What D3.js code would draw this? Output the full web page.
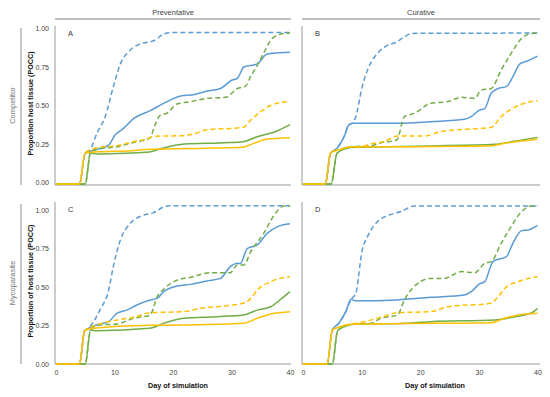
<!DOCTYPE html>
<html>
<head>
<meta charset="utf-8">
<script src="https://cdn.jsdelivr.net/npm/d3@7"></script>
<style>
  body { margin: 0; background: #fff; }
  svg { display: block; }
  text { font-family: "Liberation Sans", Arial, sans-serif; }
</style>
</head>
<body>
<svg id="chart" width="550" height="397"></svg>
<script>
// ---- Data (day, proportion) ----
const columns = ["Preventative", "Curative"];
const rows = ["Competitor", "Mycoparasite"];
const panelLetters = ["A", "B", "C", "D"];
const yTicks = [0, 0.25, 0.5, 0.75, 1];
const xTicks = [0, 10, 20, 30, 40];

// Panel A
const A_blue_dash = [[0,0],[4,0],[5,0.2],[5.8,0.22],[7,0.33],[8.4,0.437],[9.8,0.632],[11,0.78],[12.7,0.87],[14.7,0.913],[16.7,0.93],[18.4,0.974],[19.5,0.983],[40,0.983]];
const A_blue_solid = [[0,0],[4,0],[5,0.2],[7,0.225],[9,0.253],[10.1,0.318],[11.5,0.36],[13.3,0.426],[16.1,0.476],[18.4,0.524],[21.3,0.571],[23.5,0.58],[25.8,0.604],[28.1,0.62],[30.1,0.675],[31,0.686],[32.1,0.76],[34.4,0.78],[36.1,0.844],[38.4,0.853],[40,0.855]];
const A_green_dash = [[0,0],[5,0],[5.9,0.21],[7,0.225],[10.4,0.242],[13.3,0.27],[16.1,0.3],[16.8,0.37],[17.8,0.445],[19,0.46],[20.7,0.52],[23,0.535],[25.8,0.556],[29,0.563],[31,0.62],[32.4,0.636],[33.3,0.7],[34.4,0.77],[35.5,0.85],[37,0.946],[39,0.978],[40,0.98]];
const A_green_solid = [[0,0],[5,0],[5.9,0.2],[7,0.195],[12,0.2],[16,0.208],[18,0.23],[22,0.26],[28.7,0.268],[32,0.275],[34.4,0.307],[37.8,0.344],[40,0.385]];
const A_yellow_dash = [[0,0],[4,0],[5,0.205],[7.5,0.238],[10.4,0.249],[13.3,0.275],[15.5,0.292],[16.7,0.31],[21.8,0.314],[24,0.33],[25.5,0.35],[32,0.368],[33.3,0.416],[34.4,0.452],[36.7,0.51],[40,0.537]];
const A_yellow_solid = [[0,0],[4,0],[5,0.203],[8,0.21],[12,0.215],[16,0.225],[22,0.23],[27,0.233],[31.8,0.238],[33.8,0.264],[36,0.29],[40,0.3]];

// Panel B
const B_blue_dash = [[0,0],[3.8,0],[4.7,0.2],[5.8,0.232],[7,0.307],[7.8,0.383],[8.4,0.394],[9,0.437],[10.1,0.632],[11,0.74],[12.7,0.848],[14.4,0.9],[16.1,0.924],[17.3,0.957],[18.7,0.978],[40,0.98]];
const B_blue_solid = [[0,0],[3.8,0],[4.7,0.2],[5.8,0.232],[7,0.307],[7.8,0.383],[8.4,0.394],[16.1,0.394],[21.8,0.405],[27.5,0.42],[28.7,0.437],[30.1,0.48],[31,0.49],[32.1,0.589],[33.3,0.62],[34.7,0.632],[35.8,0.697],[37,0.78],[38.4,0.8],[40,0.83]];
const B_green_dash = [[0,0],[4.8,0],[5.8,0.2],[8.1,0.242],[11.5,0.247],[13.3,0.268],[16,0.286],[17.3,0.437],[19,0.459],[21.8,0.524],[24.7,0.535],[27,0.563],[29.3,0.556],[30.4,0.61],[32.1,0.62],[33.8,0.74],[35.5,0.848],[37.3,0.946],[39,0.978],[40,0.98]];
const B_green_solid = [[0,0],[4.8,0],[5.8,0.2],[7.5,0.232],[9,0.238],[21.8,0.247],[32.7,0.258],[36,0.277],[40,0.303]];
const B_yellow_dash = [[0,0],[3.8,0],[4.7,0.203],[6.4,0.225],[8.1,0.242],[9.8,0.242],[11.5,0.26],[13.8,0.275],[16.1,0.312],[20.7,0.312],[23.5,0.34],[27.5,0.355],[32.1,0.368],[33.8,0.437],[36.1,0.498],[39,0.535],[40,0.539]];
const B_yellow_solid = [[0,0],[3.8,0],[4.7,0.203],[6.4,0.225],[8.1,0.242],[16,0.242],[32,0.247],[34.4,0.264],[40,0.29]];

// Panel C
const C_blue_dash = [[0,0],[4,0],[4.9,0.216],[5.8,0.242],[7.5,0.35],[9,0.48],[9.8,0.632],[11,0.805],[12.7,0.913],[15,0.967],[16.7,0.983],[18.4,1.02],[19.5,1.028],[40,1.028]];
const C_blue_solid = [[0,0],[4,0],[4.9,0.216],[7.5,0.26],[9,0.275],[10.4,0.329],[12.1,0.35],[13.8,0.383],[16.1,0.416],[17.3,0.426],[18.4,0.47],[20.7,0.506],[23,0.517],[25.8,0.539],[28.1,0.556],[29.8,0.632],[31,0.654],[31.5,0.652],[32.7,0.75],[34.4,0.773],[36.1,0.848],[37.8,0.89],[40,0.91]];
const C_green_dash = [[0,0],[5,0],[5.9,0.22],[7.5,0.253],[10.4,0.26],[13.3,0.297],[16.1,0.318],[17.3,0.437],[18.4,0.485],[20.7,0.545],[23,0.563],[26.4,0.593],[29.8,0.593],[31,0.643],[32.1,0.643],[33.3,0.73],[35.5,0.848],[37.3,0.967],[39,1.026],[40,1.026]];
const C_green_solid = [[0,0],[5,0],[5.9,0.22],[7,0.216],[16,0.232],[18.4,0.264],[21.8,0.297],[27.5,0.307],[32,0.318],[34.4,0.35],[36.7,0.372],[38.4,0.42],[40,0.47]];
const C_yellow_dash = [[0,0],[4,0],[4.9,0.216],[7.5,0.26],[10.4,0.286],[13.3,0.303],[16.1,0.333],[21.8,0.34],[24.7,0.361],[32,0.394],[33.3,0.426],[34.4,0.48],[36.7,0.535],[40,0.567]];
const C_yellow_solid = [[0,0],[4,0],[4.9,0.216],[6.4,0.232],[16,0.251],[21.8,0.253],[32,0.264],[34.4,0.297],[36.7,0.325],[40,0.34]];

// Panel D
const D_blue_dash = [[0,0],[4.1,0],[5,0.22],[6.1,0.264],[7.3,0.34],[8.2,0.42],[9,0.459],[10.1,0.74],[11,0.827],[12.7,0.924],[14.7,0.967],[16.7,0.99],[19,1.026],[40,1.026]];
const D_blue_solid = [[0,0],[4.1,0],[5,0.22],[6.1,0.264],[7.3,0.34],[8.2,0.42],[9,0.41],[16.1,0.416],[21.8,0.433],[27.5,0.448],[28.7,0.47],[30.1,0.52],[31,0.535],[32.4,0.665],[33.3,0.68],[34.7,0.697],[35.8,0.784],[37.3,0.866],[38.4,0.87],[40,0.9]];
const D_green_dash = [[0,0],[5,0],[5.9,0.216],[7,0.242],[9,0.26],[11.5,0.264],[13.3,0.297],[16.1,0.318],[17.3,0.416],[18.4,0.48],[21.8,0.556],[24.1,0.556],[27,0.6],[29.3,0.593],[31,0.654],[32.1,0.665],[33.8,0.784],[35.5,0.892],[37.3,0.99],[39,1.026],[40,1.026]];
const D_green_solid = [[0,0],[5,0],[5.9,0.216],[7,0.242],[9,0.26],[16.1,0.262],[21.8,0.275],[32.7,0.286],[36.1,0.307],[39,0.333],[40,0.36]];
const D_yellow_dash = [[0,0],[4.1,0],[5,0.22],[6.4,0.242],[8.1,0.258],[10.4,0.275],[13.3,0.303],[16.1,0.333],[21.8,0.34],[24.7,0.372],[32,0.394],[33.3,0.437],[34.4,0.49],[36.7,0.535],[40,0.567]];
const D_yellow_solid = [[0,0],[4.1,0],[5,0.22],[6.4,0.242],[8.1,0.258],[21.8,0.264],[32,0.268],[34.4,0.297],[37.5,0.323],[40,0.329]];

const panelSeries = [
  [A_blue_dash, A_blue_solid, A_green_dash, A_green_solid, A_yellow_dash, A_yellow_solid],
  [B_blue_dash, B_blue_solid, B_green_dash, B_green_solid, B_yellow_dash, B_yellow_solid],
  [C_blue_dash, C_blue_solid, C_green_dash, C_green_solid, C_yellow_dash, C_yellow_solid],
  [D_blue_dash, D_blue_solid, D_green_dash, D_green_solid, D_yellow_dash, D_yellow_solid]
];

// ---- Styles / layout ----
const seriesStyle = [
  {color: "#5b9bd5", dash: "5,3"},
  {color: "#5b9bd5", dash: null},
  {color: "#70ad47", dash: "5,3"},
  {color: "#70ad47", dash: null},
  {color: "#ffc000", dash: "5,3"},
  {color: "#ffc000", dash: null}
];
const colLayout = [{x0: 56, x1: 290, axisX: 55, right: 291, title: 178}, {x0: 303, x1: 537.5, axisX: 302, right: 540, title: 435}];
const rowLayout = [{bottom: 184, axisY: 185, top: 26}, {bottom: 364, axisY: 364, top: 202}];

const svg = d3.select("#chart");
const line = d3.line().x(d => d[0]).y(d => d[1]).curve(d3.curveMonotoneX);

// column strips
columns.forEach((c, ci) => {
  const L = colLayout[ci];
  svg.append("line").attr("x1", L.axisX).attr("x2", L.right).attr("y1", 19).attr("y2", 19)
    .attr("stroke", "#aaa").attr("stroke-width", 1.3);
  svg.append("text").attr("x", (L.axisX + L.right) / 2).attr("y", 14.5).attr("text-anchor", "middle")
    .attr("font-size", 7.5).attr("fill", "#444").text(c);
});

// row strips
rows.forEach((r, ri) => {
  const R = rowLayout[ri];
  svg.append("line").attr("x1", 21).attr("x2", 21).attr("y1", R.top + 2).attr("y2", R.axisY)
    .attr("stroke", "#aaa").attr("stroke-width", 1.3);
  const cy = (R.top + R.axisY) / 2;
  svg.append("text").attr("transform", `translate(14.5,${cy}) rotate(-90)`).attr("text-anchor", "middle")
    .attr("font-size", 7.5).attr("fill", "#777").text(r);
  svg.append("text").attr("transform", `translate(33,${cy - 2}) rotate(-90)`).attr("text-anchor", "middle")
    .attr("font-size", 7.2).attr("font-weight", "bold").attr("fill", "#111")
    .text(ri === 0 ? "Proportion host tissue (POCC)" : "Proportion of host tissue (POCC)");
});

for (let ri = 0; ri < 2; ri++) {
  for (let ci = 0; ci < 2; ci++) {
    const R = rowLayout[ri], L = colLayout[ci];
    const x = d3.scaleLinear().domain([0, 40]).range([L.x0, L.x1]);
    const y = d3.scaleLinear().domain([0, 1]).range([R.bottom, R.bottom - 154]);
    const g = svg.append("g");

    // axis lines
    g.append("line").attr("x1", L.axisX).attr("x2", L.axisX).attr("y1", R.top).attr("y2", R.axisY)
      .attr("stroke", "#999").attr("stroke-width", 1);
    g.append("line").attr("x1", L.axisX).attr("x2", L.right).attr("y1", R.axisY).attr("y2", R.axisY)
      .attr("stroke", "#999").attr("stroke-width", 1);

    // y tick labels (left column only)
    if (ci === 0) {
      const ya = d3.axisLeft(y).tickValues(yTicks).tickFormat(d3.format(".2f")).tickSize(0).tickPadding(6);
      const ga = g.append("g").attr("transform", `translate(${L.axisX},0)`).call(ya);
      ga.select(".domain").remove();
      ga.selectAll("text").attr("font-size", 7).attr("fill", "#444")
        .attr("font-family", "Liberation Sans, Arial, sans-serif").attr("dy", ri === 0 ? "0.1em" : "0.32em");
    }
    // x tick labels (bottom row only)
    if (ri === 1) {
      const xa = d3.axisBottom(x).tickValues(xTicks).tickSize(0).tickPadding(6);
      const gx = g.append("g").attr("transform", `translate(0,${R.axisY})`).call(xa);
      gx.select(".domain").remove();
      gx.selectAll("text").attr("font-size", 7).attr("fill", "#444")
        .attr("font-family", "Liberation Sans, Arial, sans-serif");
      svg.append("text").attr("x", L.title).attr("y", 388).attr("text-anchor", "middle")
        .attr("font-size", 7.2).attr("font-weight", "bold").attr("fill", "#111").text("Day of simulation");
    }

    // panel letter
    g.append("text").attr("x", L.axisX + 13).attr("y", R.top + 10).attr("font-size", 7.5)
      .attr("fill", "#333").text(panelLetters[ri * 2 + ci]);

    // series
    panelSeries[ri * 2 + ci].forEach((s, si) => {
      const st = seriesStyle[si];
      g.append("path").attr("d", line(s.map(p => [x(p[0]), y(p[1])])))
        .attr("fill", "none").attr("stroke", st.color).attr("stroke-width", 1.5)
        .attr("stroke-dasharray", st.dash).attr("stroke-linejoin", "round");
    });
  }
}
</script>
</body>
</html>
